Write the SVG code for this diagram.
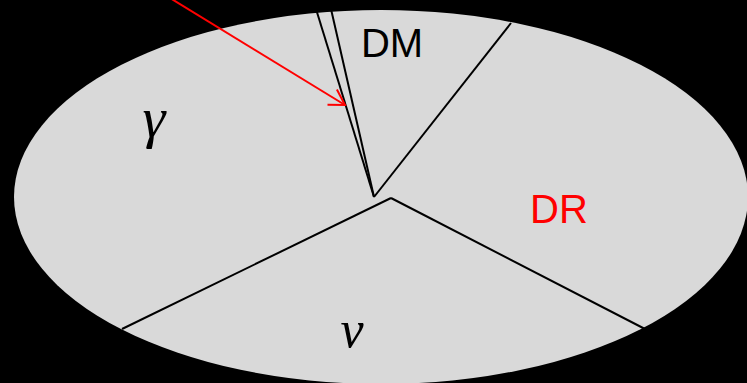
<svg xmlns="http://www.w3.org/2000/svg" width="747" height="383" viewBox="0 0 747 383">
<style>
.sep{stroke:#000;stroke-width:2;fill:none}
.lbl{font-family:"Liberation Sans",Arial,sans-serif;font-size:40px;text-anchor:middle}
.gr{font-family:"Liberation Serif","Times New Roman",serif;font-style:italic;text-anchor:middle}
</style>
<defs>
<marker id="open" markerWidth="20" markerHeight="22" refX="16" refY="10" orient="auto" markerUnits="userSpaceOnUse">
<path d="M1,1 L16,10 L1,19" fill="none" stroke="#f00" stroke-width="2"/>
</marker>
</defs>
<rect x="0" y="0" width="747" height="383" fill="#000"/>
<g id="ellipse">
<ellipse cx="381" cy="197" rx="367" ry="187" fill="#d9d9d9"/>
</g>
<g id="connectors">
<line class="sep" x1="316" y1="9" x2="374" y2="197"/>
<line class="sep" x1="331" y1="9" x2="374" y2="197"/>
<line class="sep" x1="511" y1="23" x2="374" y2="197"/>
<line class="sep" x1="122" y1="329" x2="391" y2="198"/>
<line class="sep" x1="391" y1="198" x2="645" y2="329"/>
<line x1="170" y1="-2" x2="345" y2="105" stroke="#f00" stroke-width="2" marker-end="url(#open)"/>
</g>
<g id="DM"><text class="lbl" x="392" y="57" fill="#000">DM</text></g>
<g id="DR"><text class="lbl" x="559" y="223" fill="#f00">DR</text></g>
<g id="gamma"><text class="gr" x="154" y="137" font-size="58" fill="#000">γ</text></g>
<g id="nu"><text class="gr" x="352" y="347" font-size="52" fill="#000">ν</text></g>
</svg>
